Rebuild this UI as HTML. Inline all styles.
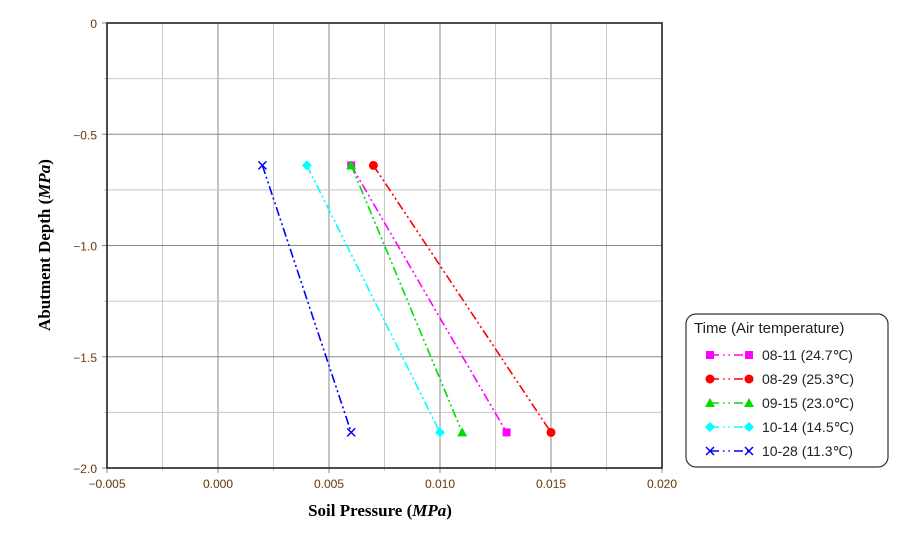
<!DOCTYPE html>
<html><head><meta charset="utf-8"><style>
body{margin:0;background:#fff;}
svg text{font-family:"Liberation Sans",sans-serif;}
</style></head><body>
<svg id="chart" width="915" height="531" xmlns="http://www.w3.org/2000/svg">
<g id="grid"></g><g id="series"></g><g id="axes"></g>
<text x="380" y="516" text-anchor="middle" font-family="Liberation Serif" font-weight="bold" font-size="17" style="font-family:'Liberation Serif',serif">Soil Pressure (<tspan font-style="italic">MPa</tspan>)</text>
<text transform="translate(50,245) rotate(-90)" text-anchor="middle" font-weight="bold" font-size="17" style="font-family:'Liberation Serif',serif">Abutment Depth (<tspan font-style="italic">MPa</tspan>)</text>
<g id="legend">
<rect x="686" y="314" width="202" height="153" rx="10" fill="#fff" stroke="#333" stroke-width="1.2"/>
<text x="694" y="333" font-size="15" fill="#222">Time (Air temperature)</text>
</g>
</svg>
<script>
const seriesNames=["08-11 (24.7℃)","08-29 (25.3℃)","09-15 (23.0℃)","10-14 (14.5℃)","10-28 (11.3℃)"];
const depths=[-0.64,-1.84];
const p0811=[0.006,0.013];
const p0829=[0.007,0.015];
const p0915=[0.006,0.011];
const p1014=[0.004,0.010];
const p1028=[0.002,0.006];
const xTicks=["-0.005","0.000","0.005","0.010","0.015","0.020"];
const yTicks=["0","-0.5","-1.0","-1.5","-2.0"];
const colors=["#ff00ff","#ff0000","#00dd00","#00ffff","#0000ff"];
const markers=["square","circle","triangle","diamond","x"];
const allP=[p0811,p0829,p0915,p1014,p1028];
const L=107,R=662,T=23,B=468;
const xs=v=>L+(v+0.005)/0.025*(R-L);
const ys=v=>T+(-v)/2*(B-T);
const NS="http://www.w3.org/2000/svg";
function mk(t,a,p){const e=document.createElementNS(NS,t);for(const k in a)e.setAttribute(k,a[k]);p.appendChild(e);return e;}
const grid=document.getElementById('grid'),axes=document.getElementById('axes'),ser=document.getElementById('series');
for(let i=0;i<=10;i++){const v=-0.005+i*0.0025,x=xs(v);const l=mk('line',{x1:x,x2:x,y1:T,y2:B+(i%2?3:5),stroke:i%2?'#c8c8c8':'#888','stroke-width':1},grid);

}
for(let i=0;i<=8;i++){const v=-i*0.25,y=ys(v);const l=mk('line',{x1:L-(i%2?3:5),x2:R,y1:y,y2:y,stroke:i%2?'#c8c8c8':'#888','stroke-width':1},grid);

}
const fr=mk('rect',{x:L,y:T,width:R-L,height:B-T,fill:'none',stroke:'#222','stroke-width':1.6},axes);


xTicks.forEach((t,i)=>{const e=mk('text',{x:xs(parseFloat(t)),y:B+20,'text-anchor':'middle','font-size':12,fill:'#222',stroke:'#f4b060','stroke-width':0.3},axes);e.textContent=t.replace('-','−');

});
yTicks.forEach((t,i)=>{const e=mk('text',{x:L-10,y:ys(parseFloat(t))+5,'text-anchor':'end','font-size':12,fill:'#222',stroke:'#f4b060','stroke-width':0.3},axes);e.textContent=t.replace('-','−');

});
function marker(type,x,y,c,p){
 if(type==='square')return mk('rect',{x:x-4,y:y-4,width:8,height:8,fill:c},p);
 if(type==='circle')return mk('circle',{cx:x,cy:y,r:4.5,fill:c},p);
 if(type==='triangle')return mk('polygon',{points:`${x},${y-5} ${x-5},${y+4} ${x+5},${y+4}`,fill:c},p);
 if(type==='diamond')return mk('polygon',{points:`${x},${y-5} ${x+5},${y} ${x},${y+5} ${x-5},${y}`,fill:c},p);
 const g=mk('g',{},p);mk('line',{x1:x-4,y1:y-4,x2:x+4,y2:y+4,stroke:c,'stroke-width':1.5},g);mk('line',{x1:x-4,y1:y+4,x2:x+4,y2:y-4,stroke:c,'stroke-width':1.5},g);return g;}
const leg=document.getElementById('legend');
allP.forEach((arr,s)=>{
 const g=mk('g',{},ser);
 
 
 const pts=arr.map((v,i)=>xs(v)+','+ys(depths[i])).join(' ');
 mk('polyline',{points:pts,fill:'none',stroke:colors[s],'stroke-width':1.6,'stroke-dasharray':'9,3,2,3,2,3'},g);
 arr.forEach((v,i)=>{const m=marker(markers[s],xs(v),ys(depths[i]),colors[s],g);
  
  });
 const ly=355+s*24;
 const le=mk('g',{},leg);
 
 
 mk('line',{x1:710,x2:749,y1:ly,y2:ly,stroke:colors[s],'stroke-width':1.5,'stroke-dasharray':'9,4,1.5,4,1.5,4'},le);
 marker(markers[s],710,ly,colors[s],le);marker(markers[s],749,ly,colors[s],le);
 const t=mk('text',{x:762,y:ly+5,'font-size':14,fill:'#222'},le);t.textContent=seriesNames[s];
});
</script>
</body></html>
